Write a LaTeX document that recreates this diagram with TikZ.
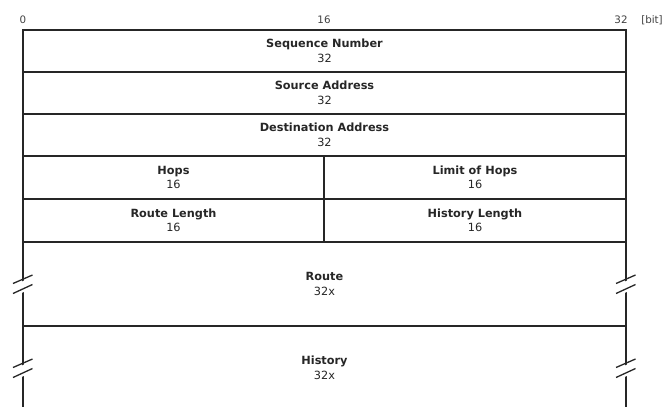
\documentclass[tikz,border=0pt]{standalone}
\usepackage{fontspec}
\setmainfont{DejaVu Sans}
\begin{document}
\begin{tikzpicture}[x=1pt,y=-1pt,
  frame/.style={draw=black!85,line width=1.6pt},
  field/.style={align=center,inner sep=0pt,text=black!85,font=\fontsize{11.3}{14.5}\selectfont},
  ruler/.style={inner sep=0pt,text=black!75,font=\fontsize{10.3}{11}\selectfont},
  brk/.style={draw=black!85,line width=1.3pt}]
\useasboundingbox (0,0) rectangle (667,407);
% horizontal lines
\draw[frame] (23,30) -- (626,30);
\draw[frame] (23,72) -- (626,72);
\draw[frame] (23,114) -- (626,114);
\draw[frame] (23,156) -- (626,156);
\draw[frame] (23,199) -- (626,199);
\draw[frame] (23,242) -- (626,242);
\draw[frame] (23,326) -- (626,326);
% verticals
\draw[frame] (23,29.2) -- (23,407);
\draw[frame] (626,29.2) -- (626,407);
\draw[frame] (324,156) -- (324,242);
% break marks
\foreach \cx in {23,626}{
  \foreach \cy in {284,368}{
    \fill[white] (\cx-4,\cy+1.2) -- (\cx+4,\cy-2.6) -- (\cx+4,\cy+6.4) -- (\cx-4,\cy+10.2) -- cycle;
    \fill[white] (\cx-4,\cy-1) -- (\cx+4,\cy-4.8) -- (\cx+4,\cy+4.2) -- (\cx-4,\cy+8) -- cycle;
    \draw[brk] (\cx-10,\cy-0.5) -- (\cx+9.5,\cy-9);
    \draw[brk] (\cx-10,\cy+9.5) -- (\cx+9.5,\cy+0.5);
  }
}
% ruler
\node[ruler] (r0) at (23,20) {0};
\node[ruler] (r16) at (324,20) {16};
\node[ruler] (r32) at (621,20) {32};
\node[ruler] (rbit) at (652,20) {[bit]};
% fields
\node[field] (seq) at (324.5,51) {\textbf{Sequence Number}\\32};
\node[field] (src) at (324.5,93) {\textbf{Source Address}\\32};
\node[field] (dst) at (324.5,135) {\textbf{Destination Address}\\32};
\node[field] (hops) at (173.5,177.5) {\textbf{Hops}\\16};
\node[field] (lim) at (475,177.5) {\textbf{Limit of Hops}\\16};
\node[field] (rlen) at (173.5,220.5) {\textbf{Route Length}\\16};
\node[field] (hlen) at (475,220.5) {\textbf{History Length}\\16};
\node[field] (route) at (324.5,284) {\textbf{Route}\\32x};
\node[field] (hist) at (324.5,368) {\textbf{History}\\32x};
\end{tikzpicture}
\end{document}
